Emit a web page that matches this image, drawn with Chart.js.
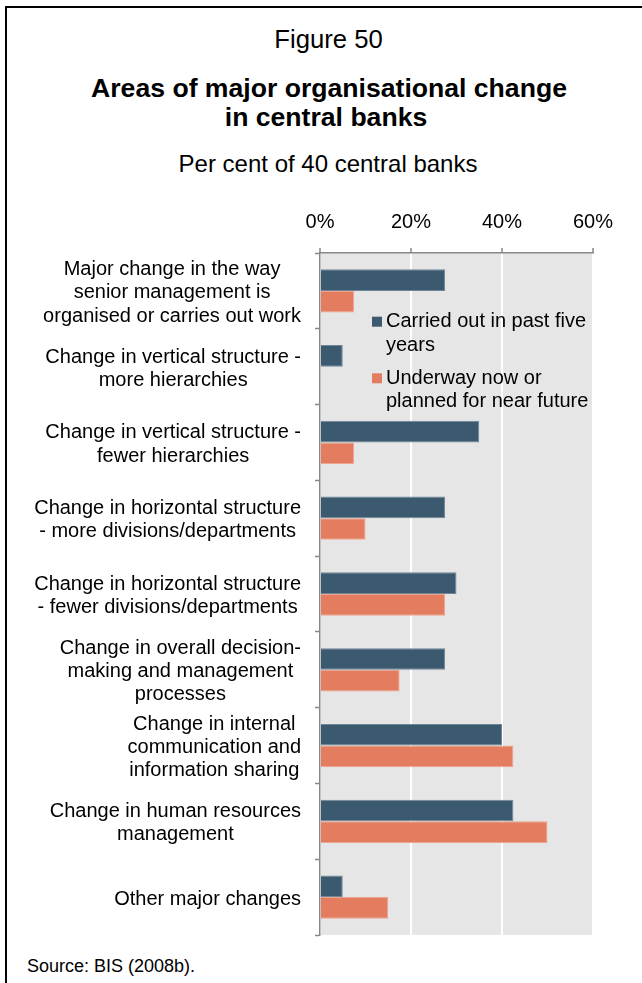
<!DOCTYPE html>
<html>
<head>
<meta charset="utf-8">
<title>Figure 50</title>
<script src="https://cdn.jsdelivr.net/npm/chart.js@4.4.1/dist/chart.umd.min.js"></script>
<style>
  body { margin: 0; background: #fff; font-family: "Liberation Sans", Arial, sans-serif; color: #000; }
  #page { position: relative; width: 642px; height: 983px; overflow: hidden; }
  #frame { position: absolute; left: 5px; top: 6px; width: 700px; height: 1000px;
           border-top: 2px solid #000; border-left: 2px solid #000; }
  .txt { position: absolute; white-space: nowrap; line-height: 1; }
  .mid { transform: translateX(-50%); }
  #chartWrap { position: absolute; left: 0; top: 0; }
</style>
</head>
<body>
<div id="page">
  <div id="frame"></div>
  <div class="txt mid" style="left:328.5px; top:26.5px; font-size:25.7px;">Figure 50</div>
  <div class="txt mid" style="left:329px; top:75px; font-size:26.6px; font-weight:bold;">Areas of major organisational change</div>
  <div class="txt mid" style="left:326px; top:104px; font-size:26.6px; font-weight:bold;">in central banks</div>
  <div class="txt mid" style="left:328px; top:152px; font-size:24px;">Per cent of 40 central banks</div>
  <div class="txt" style="left:27px; top:957px; font-size:18px;">Source: BIS (2008b).</div>
  <div id="chartWrap"><canvas id="chart" width="642" height="983"></canvas></div>
</div>

<script>
/* ---------- data ---------- */
const categories = [
  ["Major change in the way", "senior management is", "organised or carries out work"],
  ["Change in vertical structure -", "more hierarchies"],
  ["Change in vertical structure -", "fewer hierarchies"],
  ["Change in horizontal structure", "- more divisions/departments"],
  ["Change in horizontal structure", "- fewer divisions/departments"],
  ["Change in overall decision-", "making and management", "processes"],
  ["Change in internal", "communication and", "information sharing"],
  ["Change in human resources", "management"],
  ["Other major changes"]
];
const pastFiveYears = [27.5, 5, 35, 27.5, 30, 27.5, 40, 42.5, 5];
const underwayOrPlanned = [7.5, 0, 7.5, 10, 27.5, 17.5, 42.5, 50, 15];
const xTicks = [0, 20, 40, 60];
const seriesNames = [
  ["Carried out in past five", "years"],
  ["Underway now or", "planned for near future"]
];

const FONT = '"Liberation Sans", Arial, sans-serif';
const AXIS_GREY = "#888888";

/* grey plot background */
const plotBackground = {
  id: "plotBackground",
  beforeDraw(chart) {
    const { ctx, chartArea: a } = chart;
    ctx.save();
    ctx.fillStyle = "#e6e6e6";
    ctx.fillRect(a.left, a.top, a.right - a.left, a.bottom - a.top);
    ctx.restore();
  }
};

/* category labels: each block sits against the axis, lines centred inside it */
const categoryLabels = {
  id: "categoryLabels",
  afterDraw(chart) {
    const { ctx, chartArea: a } = chart;
    const y = chart.scales.y;
    const lh = 23.2;
    const right = a.left - 19;
    ctx.save();
    ctx.font = "20px " + FONT;
    ctx.fillStyle = "#000";
    ctx.textAlign = "center";
    ctx.textBaseline = "middle";
    categories.forEach((lines, i) => {
      const w = Math.max(...lines.map(l => ctx.measureText(l).width));
      const cx = right - w / 2;
      const cy = y.getPixelForValue(i) + 2;
      lines.forEach((l, k) => {
        ctx.fillText(l, cx, cy + (k - (lines.length - 1) / 2) * lh);
      });
    });
    ctx.restore();
  }
};

/* legend drawn inside the plot, two-line labels */
const innerLegend = {
  id: "innerLegend",
  afterDatasetsDraw(chart) {
    const { ctx, chartArea: a } = chart;
    const lh = 23.4;
    const itemTops = [68.7, 125.3];
    ctx.save();
    ctx.font = "20px " + FONT;
    ctx.textBaseline = "middle";
    ctx.textAlign = "left";
    chart.data.datasets.forEach((ds, i) => {
      const cy = a.top + itemTops[i];
      ctx.fillStyle = ds.backgroundColor;
      ctx.fillRect(a.left + 52, cy - 5, 10, 10);
      ctx.fillStyle = "#000";
      seriesNames[i].forEach((l, k) => ctx.fillText(l, a.left + 66, cy + k * lh));
    });
    ctx.restore();
  }
};

new Chart(document.getElementById("chart"), {
  type: "bar",
  data: {
    labels: categories.map(c => c.join(" ")),
    datasets: [
      {
        label: seriesNames[0].join(" "),
        data: pastFiveYears,
        backgroundColor: "#3c5a6f",
        borderColor: "#6f8697",
        borderWidth: 1
      },
      {
        label: seriesNames[1].join(" "),
        data: underwayOrPlanned,
        backgroundColor: "#e47c5f",
        borderColor: "#eea58f",
        borderWidth: 1
      }
    ]
  },
  options: {
    indexAxis: "y",
    responsive: false,
    animation: false,
    devicePixelRatio: 1,
    categoryPercentage: 0.571,
    barPercentage: 1,
    layout: { padding: { left: 315, right: 49, top: 200, bottom: 48 } },
    plugins: {
      legend: { display: false },
      tooltip: { enabled: false }
    },
    scales: {
      x: {
        position: "top",
        min: 0,
        max: 60,
        afterBuildTicks: s => { s.ticks = xTicks.map(v => ({ value: v })); },
        afterFit: s => { s.height = 53; },
        ticks: {
          callback: v => v + "%",
          color: "#000",
          padding: 14,
          font: { family: FONT, size: 20 }
        },
        grid: {
          color: "#ffffff",
          lineWidth: 2,
          tickColor: AXIS_GREY,
          tickWidth: 1.5,
          tickLength: 5
        },
        border: { color: AXIS_GREY, width: 1.5 }
      },
      y: {
        afterFit: s => { s.width = 5; },
        ticks: { display: false },
        grid: {
          drawOnChartArea: false,
          color: AXIS_GREY,
          tickColor: AXIS_GREY,
          tickWidth: 1.5,
          tickLength: 5
        },
        border: { color: AXIS_GREY, width: 1.5 }
      }
    }
  },
  plugins: [plotBackground, categoryLabels, innerLegend]
});
</script>
</body>
</html>
